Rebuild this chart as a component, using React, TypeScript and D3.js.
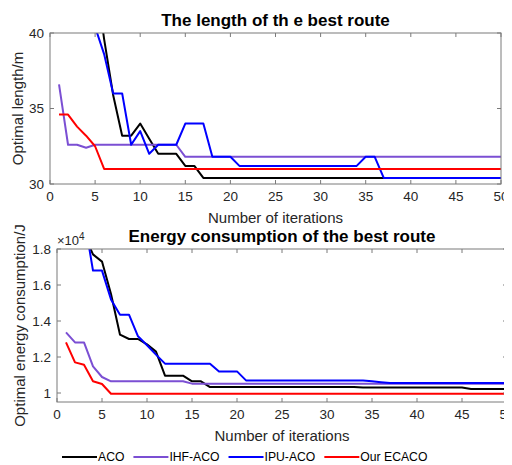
import React, { useEffect, useRef } from "react";
import * as d3 from "d3";

const iterations = d3.range(1, 51);

const seriesNames = ["ACO", "IHF-ACO", "IPU-ACO", "Our ECACO"];
const seriesColors = ["#000000", "#7B4FD3", "#0000FF", "#FF0000"];

// route length, one value per iteration (1..50)
const lenACO = [48, 47, 46, 45, 44, 39.6, 35.9, 33.2, 33.2, 34.0, 33.0, 32.0, 32.0, 32.0, 31.2, 31.2,
  30.4, 30.4, 30.4, 30.4, 30.4, 30.4, 30.4, 30.4, 30.4, 30.4, 30.4, 30.4, 30.4, 30.4, 30.4, 30.4, 30.4,
  30.4, 30.4, 30.4, 30.4, 30.4, 30.4, 30.4, 30.4, 30.4, 30.4, 30.4, 30.4, 30.4, 30.4, 30.4, 30.4, 30.4];
const lenIHF = [36.6, 32.6, 32.6, 32.4, 32.6, 32.6, 32.6, 32.6, 32.6, 32.6, 32.6, 32.6, 32.6, 32.6,
  31.8, 31.8, 31.8, 31.8, 31.8, 31.8, 31.8, 31.8, 31.8, 31.8, 31.8, 31.8, 31.8, 31.8, 31.8, 31.8, 31.8,
  31.8, 31.8, 31.8, 31.8, 31.8, 31.8, 31.8, 31.8, 31.8, 31.8, 31.8, 31.8, 31.8, 31.8, 31.8, 31.8, 31.8, 31.8, 31.8];
const lenIPU = [48, 46, 44, 42, 40.4, 38.6, 36.0, 36.0, 32.6, 33.5, 32.0, 32.6, 32.6, 32.6, 34.0, 34.0,
  34.0, 31.8, 31.8, 31.8, 31.2, 31.2, 31.2, 31.2, 31.2, 31.2, 31.2, 31.2, 31.2, 31.2, 31.2, 31.2, 31.2,
  31.2, 31.8, 31.8, 30.4, 30.4, 30.4, 30.4, 30.4, 30.4, 30.4, 30.4, 30.4, 30.4, 30.4, 30.4, 30.4, 30.4];
const lenECACO = [34.6, 34.6, 33.8, 33.2, 32.5, 31.0, 31.0, 31.0, 31.0, 31.0, 31.0, 31.0, 31.0, 31.0,
  31.0, 31.0, 31.0, 31.0, 31.0, 31.0, 31.0, 31.0, 31.0, 31.0, 31.0, 31.0, 31.0, 31.0, 31.0, 31.0, 31.0,
  31.0, 31.0, 31.0, 31.0, 31.0, 31.0, 31.0, 31.0, 31.0, 31.0, 31.0, 31.0, 31.0, 31.0, 31.0, 31.0, 31.0, 31.0, 31.0];

// energy consumption (J)
const enACO = [21000, 20000, 18800, 17700, 17300, 15500, 13240, 13000, 13000, 12700, 12300, 10960,
  10960, 10960, 10650, 10650, 10330, 10330, 10330, 10330, 10330, 10330, 10330, 10330, 10330, 10330,
  10330, 10330, 10330, 10330, 10330, 10330, 10330, 10300, 10300, 10300, 10300, 10300, 10300, 10300,
  10300, 10300, 10300, 10300, 10300, 10220, 10220, 10220, 10220, 10220];
const enIHF = [13370, 12810, 12810, 11480, 10890, 10650, 10650, 10650, 10650, 10650, 10650, 10650,
  10650, 10650, 10520, 10520, 10520, 10520, 10520, 10520, 10520, 10520, 10520, 10520, 10520, 10520,
  10520, 10520, 10520, 10520, 10520, 10520, 10520, 10520, 10520, 10520, 10520, 10520, 10520, 10520,
  10520, 10520, 10520, 10520, 10520, 10520, 10520, 10520, 10520, 10520];
const enIPU = [21000, 20500, 19800, 16800, 16800, 15200, 14350, 14350, 13150, 12650, 12130, 11630,
  11630, 11630, 11630, 11630, 11630, 11200, 11200, 11200, 10700, 10700, 10700, 10700, 10700, 10700,
  10700, 10700, 10700, 10700, 10700, 10700, 10700, 10700, 10650, 10600, 10560, 10560, 10560, 10560,
  10560, 10560, 10560, 10560, 10560, 10560, 10560, 10560, 10560, 10560];
const enECACO = [12810, 11700, 11570, 10650, 10500, 9960, 9960, 9960, 9960, 9960, 9960, 9960, 9960,
  9960, 9960, 9960, 9960, 9960, 9960, 9960, 9960, 9960, 9960, 9960, 9960, 9960, 9960, 9960, 9960,
  9960, 9960, 9960, 9960, 9960, 9960, 9960, 9960, 9960, 9960, 9960, 9960, 9960, 9960, 9960, 9960,
  9960, 9960, 9960, 9960, 9960];

const xTicks = [0, 5, 10, 15, 20, 25, 30, 35, 40, 45, 50];
const lenTicks = [30, 35, 40];
const enTicks = [10000, 12000, 14000, 16000, 18000];

const FONT = "'Liberation Sans', Arial, Helvetica, sans-serif";
const AXIS_COLOR = "#7a7a7a";
const TEXT_COLOR = "#262626";

const App = () => {
  const svgRef = useRef<SVGSVGElement>(null);

  useEffect(() => {
    drawChart();
  }, []);

  const drawPanel = (svg, opts) => {
    const { left, right, top, bottom, yDomain, yTicks, yFmt, series, title, ylabel, ylabelX, id } = opts;
    const x = d3.scaleLinear().domain([0, 50]).range([left, right]);
    const y = d3.scaleLinear().domain(yDomain).range([bottom, top]);

    svg.append("clipPath").attr("id", id)
      .append("rect").attr("x", left).attr("y", top)
      .attr("width", right - left).attr("height", bottom - top);

    const g = svg.append("g").attr("clip-path", `url(#${id})`);
    const line = d3.line<number>().x((d, i) => x(iterations[i])).y((d) => y(d));
    series.forEach((s, k) => {
      g.append("path")
        .datum(s)
        .attr("d", line)
        .attr("fill", "none")
        .attr("stroke", seriesColors[k])
        .attr("stroke-width", 2)
        .attr("stroke-linejoin", "round");
    });

    // box
    svg.append("rect")
      .attr("x", left).attr("y", top)
      .attr("width", right - left).attr("height", bottom - top)
      .attr("fill", "none").attr("stroke", AXIS_COLOR).attr("stroke-width", 1);

    // x ticks (inward, bottom and top)
    const tl = 4;
    svg.append("g").selectAll("line.xb").data(xTicks).enter().append("line")
      .attr("x1", (d) => x(d)).attr("x2", (d) => x(d))
      .attr("y1", bottom).attr("y2", bottom - tl).attr("stroke", AXIS_COLOR);
    svg.append("g").selectAll("line.xt").data(xTicks).enter().append("line")
      .attr("x1", (d) => x(d)).attr("x2", (d) => x(d))
      .attr("y1", top).attr("y2", top + tl).attr("stroke", AXIS_COLOR);
    svg.append("g").selectAll("text").data(xTicks).enter().append("text")
      .attr("x", (d) => x(d)).attr("y", bottom + 17)
      .attr("text-anchor", "middle")
      .style("font-family", FONT).style("font-size", "13.5px").style("fill", TEXT_COLOR)
      .text((d) => d);

    // y ticks
    svg.append("g").selectAll("line.yl").data(yTicks).enter().append("line")
      .attr("x1", left).attr("x2", left + tl)
      .attr("y1", (d) => y(d)).attr("y2", (d) => y(d)).attr("stroke", AXIS_COLOR);
    svg.append("g").selectAll("line.yr").data(yTicks).enter().append("line")
      .attr("x1", right).attr("x2", right - tl)
      .attr("y1", (d) => y(d)).attr("y2", (d) => y(d)).attr("stroke", AXIS_COLOR);
    svg.append("g").selectAll("text").data(yTicks).enter().append("text")
      .attr("x", left - 6).attr("y", (d) => y(d)).attr("dy", "0.35em")
      .attr("text-anchor", "end")
      .style("font-family", FONT).style("font-size", "13.5px").style("fill", TEXT_COLOR)
      .text(yFmt);

    // title
    svg.append("text")
      .attr("x", (left + right) / 2).attr("y", top - 7)
      .attr("text-anchor", "middle")
      .style("font-family", FONT).style("font-size", "17px").style("font-weight", "bold")
      .style("fill", "#000")
      .text(title);

    // x label
    svg.append("text")
      .attr("x", (left + right) / 2).attr("y", bottom + 39)
      .attr("text-anchor", "middle")
      .style("font-family", FONT).style("font-size", "15px").style("fill", TEXT_COLOR)
      .text("Number of iterations");

    // y label
    svg.append("text")
      .attr("transform", `translate(${ylabelX},${(top + bottom) / 2}) rotate(-90)`)
      .attr("dy", "0.35em")
      .attr("text-anchor", "middle")
      .style("font-family", FONT).style("font-size", "15px").style("fill", TEXT_COLOR)
      .text(ylabel);

    return { x, y };
  };

  const drawChart = () => {
    const svg = d3.select(svgRef.current);
    svg.selectAll("*").remove();

    drawPanel(svg, {
      id: "clipTop",
      left: 50, right: 501, top: 33, bottom: 184,
      yDomain: [30, 40], yTicks: lenTicks, yFmt: (d) => d,
      series: [lenACO, lenIHF, lenIPU, lenECACO],
      title: "The length of th e best route",
      ylabel: "Optimal length/m", ylabelX: 18,
    });

    drawPanel(svg, {
      id: "clipBottom",
      left: 57, right: 507, top: 249, bottom: 402,
      yDomain: [9500, 18000], yTicks: enTicks, yFmt: (d) => d3.format("~g")(d / 10000),
      series: [enACO, enIHF, enIPU, enECACO],
      title: "Energy consumption of the best route",
      ylabel: "Optimal energy consumption/J", ylabelX: 20,
    });

    // exponent label
    const ex = svg.append("text")
      .attr("x", 57).attr("y", 245)
      .style("font-family", FONT).style("font-size", "13px").style("fill", TEXT_COLOR);
    ex.append("tspan").text("\u00d710");
    ex.append("tspan").attr("dy", -5).style("font-size", "10px").text("4");

    // legend
    const legend = svg.append("g");
    let lx = 62;
    const ly = 457;
    seriesNames.forEach((name, k) => {
      legend.append("line")
        .attr("x1", lx).attr("x2", lx + 35)
        .attr("y1", ly).attr("y2", ly)
        .attr("stroke", seriesColors[k]).attr("stroke-width", 2);
      const t = legend.append("text")
        .attr("x", lx + 36).attr("y", ly).attr("dy", "0.35em")
        .style("font-family", FONT).style("font-size", "12.2px").style("fill", "#000")
        .text(name);
      const w = (t.node() as SVGTextElement).getComputedTextLength();
      lx += 36 + w + 9;
    });
  };

  return <svg ref={svgRef} width={512} height={465} style={{ display: "block", margin: "-8px 0 0 -8px", overflow: "hidden" }}></svg>;
};

export default App;
